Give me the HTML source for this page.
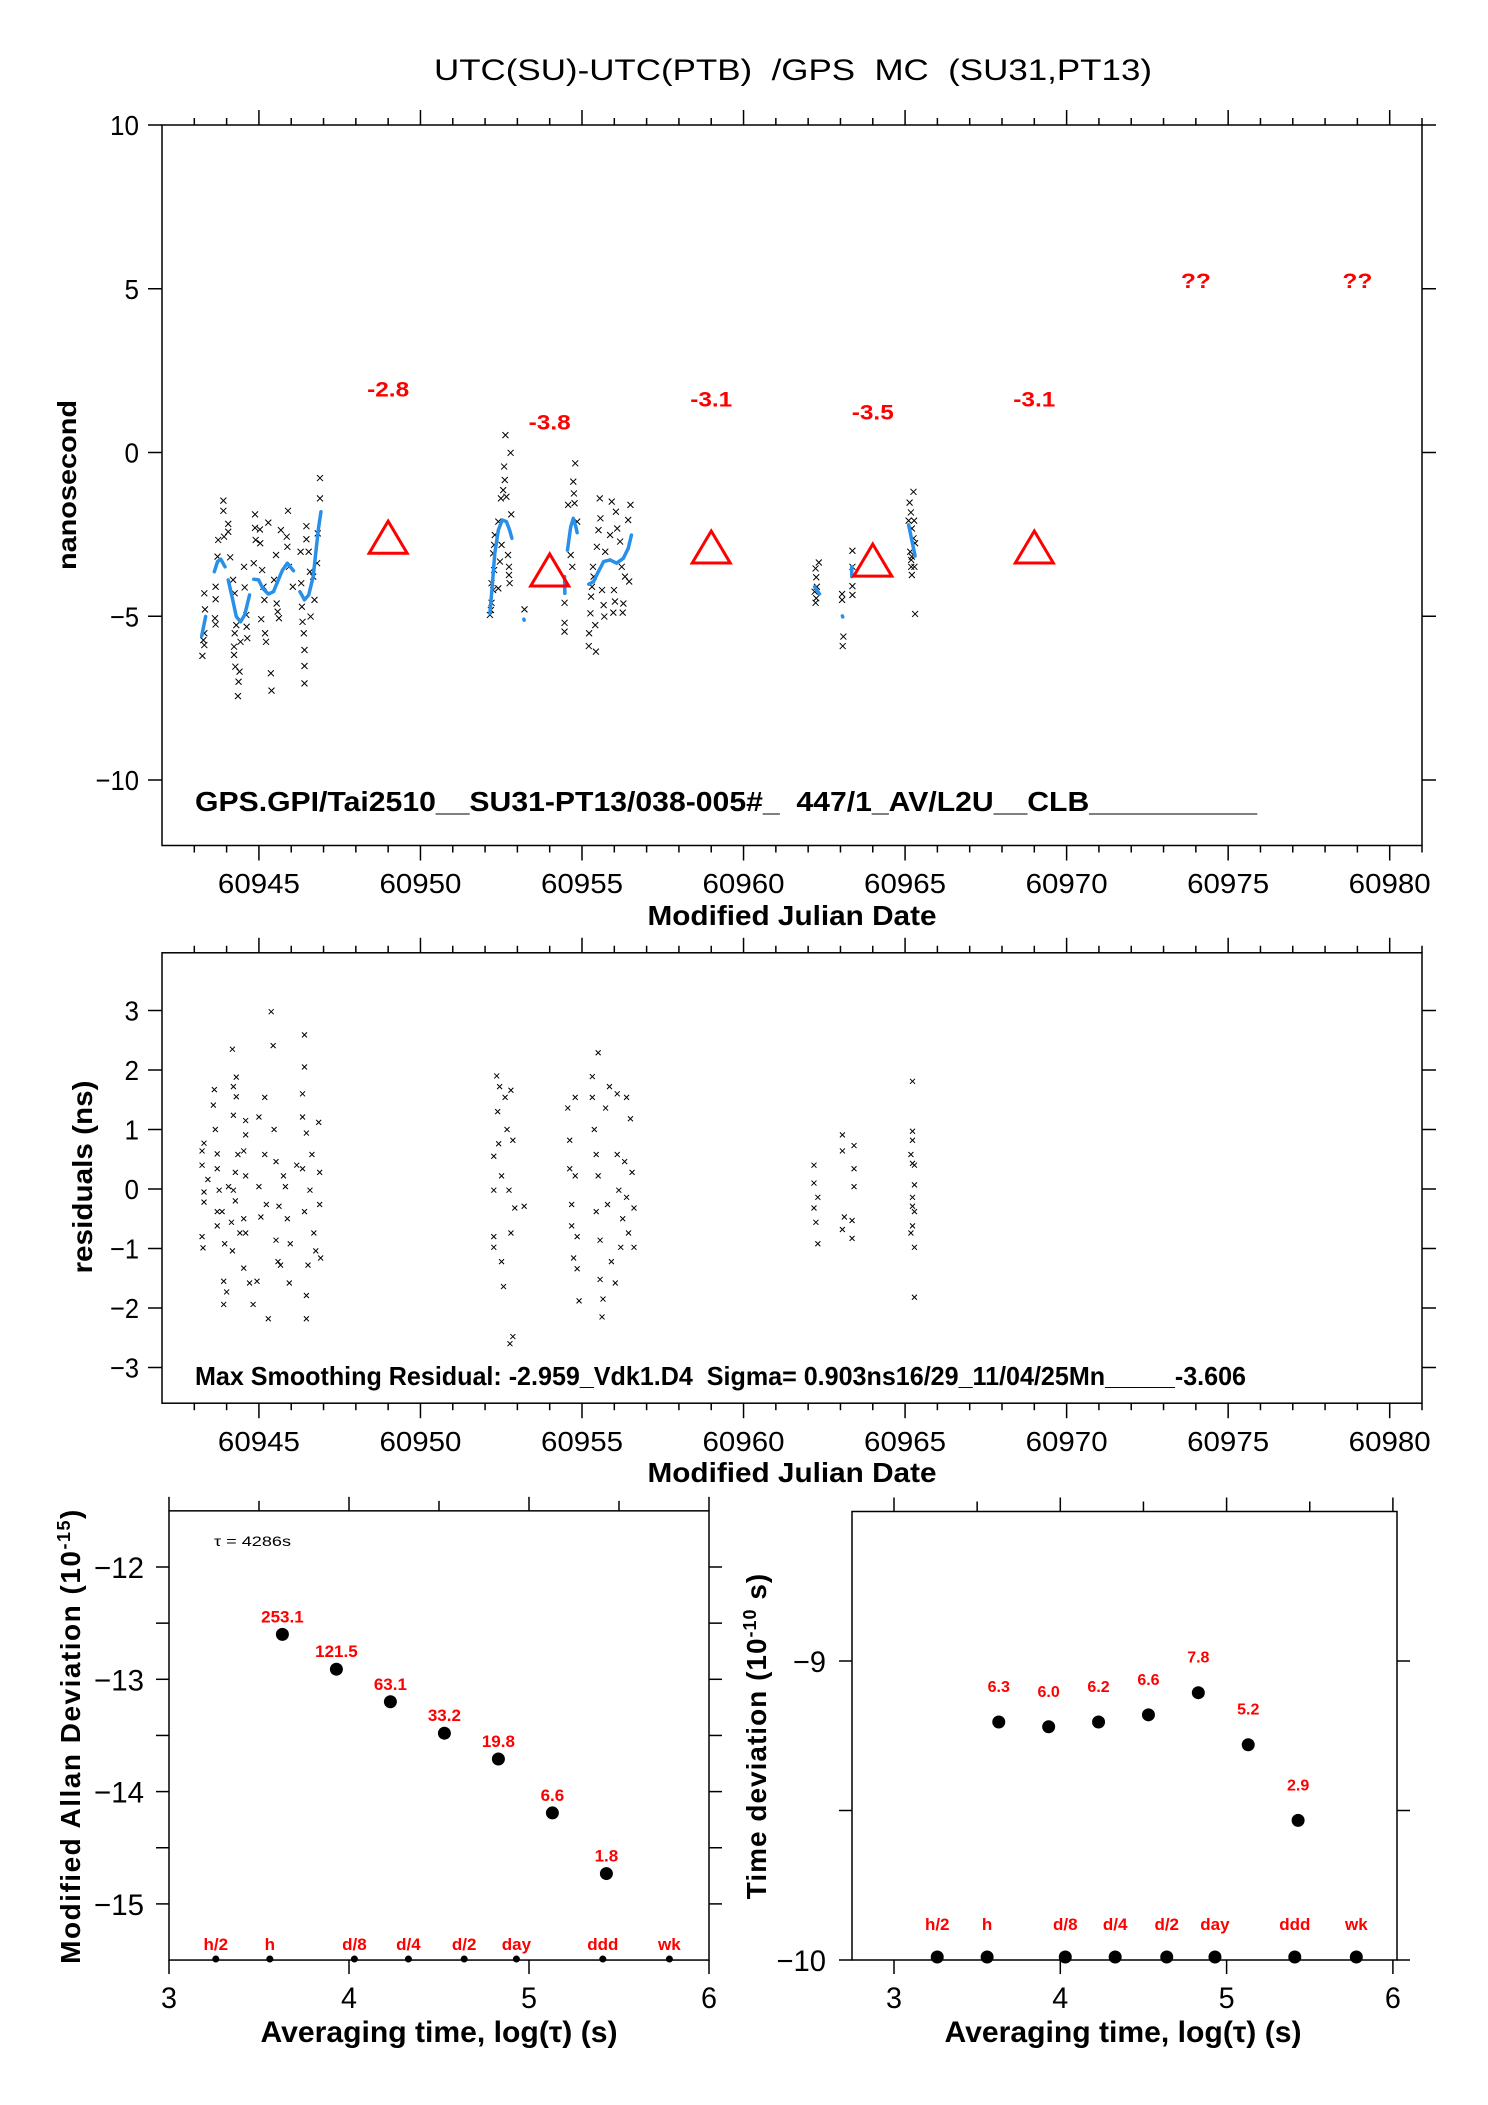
<!DOCTYPE html>
<html><head><meta charset="utf-8"><title>UTC(SU)-UTC(PTB) GPS MC</title>
<style>html,body{margin:0;padding:0;background:#fff}svg{display:block}</style></head>
<body>
<svg id="chart" xmlns="http://www.w3.org/2000/svg" width="1488" height="2105" viewBox="0 0 1488 2105"></svg>
<script>
// ---------- data ----------
const topX=[60943.25,60943.31,60943.28,60943.31,60943.33,60943.31,60943.66,60943.66,60943.64,60943.66,60943.72,60943.74,60943.90,60943.90,60943.92,60944.05,60944.05,60944.11,60944.20,60944.25,60944.30,60944.25,60944.23,60944.23,60944.27,60944.40,60944.37,60944.35,60944.43,60944.54,60944.56,60944.61,60944.62,60944.64,60944.88,60944.88,60944.90,60945.03,60945.04,60944.84,60945.10,60945.14,60945.17,60945.07,60945.19,60945.22,60945.29,60945.37,60945.39,60945.47,60945.53,60945.55,60945.58,60945.62,60945.68,60945.86,60945.90,60945.88,60945.93,60946.05,60946.29,60946.31,60946.33,60946.35,60946.39,60946.41,60946.41,60946.41,60946.47,60946.47,60946.54,60946.60,60946.58,60946.68,60946.72,60946.80,60946.82,60946.89,60946.89,
60952.15,60952.18,60952.20,60952.25,60952.20,60952.28,60952.25,60952.28,60952.30,60952.41,60952.41,60952.46,60952.51,60952.49,60952.56,60952.61,60952.59,60952.63,60952.66,60952.71,60952.74,60952.74,60952.76,60952.79,60952.81,60953.22,60954.46,60954.46,60954.46,60954.57,60954.65,60954.70,60954.73,60954.75,60954.77,60954.79,60954.85,60955.22,60955.26,60955.28,60955.31,60955.34,60955.36,60955.21,60955.43,60955.41,60955.46,60955.51,60955.55,60955.57,60955.62,60955.67,60955.69,60955.72,60955.87,60955.92,60955.97,60955.99,60956.02,60956.05,60956.09,60956.18,60956.23,60956.26,60956.28,60956.33,60956.43,60956.46,60956.50,
60962.33,60962.23,60962.25,60962.27,60962.20,60962.25,60962.23,60963.05,60963.05,60963.09,60963.07,60963.37,60963.37,60963.37,60963.37,60965.26,60965.14,60965.18,60965.11,60965.28,60965.21,60965.26,60965.31,60965.16,60965.21,60965.19,60965.29,60965.19,60965.21,60965.31];
const topY=[-6.21,-5.88,-5.73,-5.52,-4.79,-4.30,-4.10,-4.48,-5.06,-5.25,-3.18,-2.67,-1.47,-1.78,-2.57,-2.18,-2.42,-3.20,-3.89,-4.30,-5.27,-5.52,-5.93,-6.18,-6.54,-6.69,-7.00,-7.44,-5.78,-3.49,-4.12,-4.96,-5.32,-5.67,-1.89,-2.30,-2.67,-2.35,-2.77,-3.38,-3.59,-4.10,-4.50,-5.09,-5.52,-5.78,-2.14,-6.74,-7.27,-3.89,-3.13,-4.61,-4.86,-5.06,-2.37,-2.57,-1.78,-2.88,-3.49,-4.10,-3.03,-3.99,-4.71,-5.17,-5.52,-6.03,-6.52,-7.05,-2.25,-2.65,-3.03,-5.01,-3.64,-3.79,-4.50,-3.38,-2.47,-1.40,-0.78,
-4.96,-4.81,-4.59,-4.20,-3.99,-3.59,-3.08,-2.82,-2.52,-2.11,-4.15,-3.33,-2.82,-1.40,-1.15,-0.84,-0.43,0.53,-1.35,-3.13,-3.49,-3.74,-3.99,-0.01,-1.89,-4.79,-4.59,-5.20,-5.47,-1.60,-3.13,-3.49,-0.89,-1.25,-1.55,-0.33,-2.11,-5.52,-4.91,-4.40,-4.10,-3.49,-3.79,-5.91,-6.08,-5.27,-2.88,-2.37,-1.40,-2.01,-4.20,-4.66,-5.01,-3.03,-2.52,-1.50,-4.89,-4.20,-4.55,-1.81,-2.32,-2.72,-3.49,-4.89,-4.61,-3.79,-2.06,-3.94,-1.60,
-3.36,-3.54,-3.81,-4.10,-4.25,-4.45,-4.59,-4.32,-4.50,-5.62,-5.91,-3.00,-3.49,-4.08,-4.35,-1.20,-1.53,-1.83,-2.08,-2.08,-2.32,-2.62,-2.77,-3.03,-3.18,-3.28,-3.49,-3.49,-3.74,-4.93];
const blueX=[[60943.23,60943.35],[60943.62,60943.72,60943.82,60943.95],[60944.05,60944.20,60944.30,60944.43,60944.56,60944.71],[60944.84,60944.99,60945.12,60945.29,60945.45,60945.60,60945.73,60945.88,60946.07],[60946.27,60946.41,60946.54,60946.68,60946.78,60946.85,60946.92],[60952.15,60952.22,60952.30,60952.41,60952.53,60952.66,60952.76,60952.83],[60953.20,60953.21],[60954.46,60954.47],[60954.55,60954.65,60954.73,60954.81,60954.85],[60955.21,60955.36,60955.48,60955.67,60955.87,60956.07,60956.28,60956.43,60956.53],[60962.20,60962.35],[60963.06,60963.07],[60963.35,60963.35],[60965.11,60965.31]];
const blueY=[[-5.60,-5.01],[-3.64,-3.33,-3.26,-3.49],[-3.89,-4.55,-5.01,-5.17,-4.96,-4.35],[-3.87,-3.89,-4.15,-4.32,-4.25,-3.89,-3.59,-3.38,-3.61],[-4.25,-4.50,-4.35,-3.79,-2.88,-2.27,-1.81],[-4.91,-4.10,-3.08,-2.37,-2.06,-2.11,-2.37,-2.62],[-5.09,-5.12],[-3.79,-4.30],[-2.98,-2.27,-2.01,-2.27,-2.45],[-4.02,-3.94,-3.69,-3.33,-3.28,-3.38,-3.23,-2.93,-2.52],[-4.10,-4.32],[-4.99,-5.02],[-3.49,-3.79],[-2.21,-3.16]];
const triX=[60949,60954,60959,60964,60969];
const triV=[-2.8,-3.8,-3.1,-3.5,-3.1];
const unkX=[60974,60979];
const unkV=[5.27,5.27];
const resX=[60943.24,60943.24,60943.30,60943.30,60943.24,60943.27,60943.30,60943.42,60943.62,60943.59,60943.65,60943.71,60943.71,60943.77,60943.71,60943.71,60943.91,60943.91,60944.00,60943.86,60943.94,60944.06,60944.18,60944.30,60944.21,60944.30,60944.21,60944.27,60944.21,60944.15,60944.18,60944.35,60944.27,60944.41,60944.59,60944.59,60944.53,60944.59,60944.53,60944.59,60944.53,60944.71,60944.82,60945.00,60945.00,60945.06,60944.94,60945.18,60945.18,60945.23,60945.29,60945.38,60945.44,60945.47,60945.53,60945.53,60945.59,60945.62,60945.67,60945.76,60945.82,60945.88,60945.94,60945.97,60946.17,60946.35,60946.35,60946.41,60946.41,60946.47,60946.35,60946.41,60946.47,60946.47,60946.52,60946.58,60946.64,60946.70,60946.76,60946.85,60946.88,60946.88,60946.91,
60952.27,60952.27,60952.27,60952.27,60952.36,60952.39,60952.42,60952.45,60952.51,60952.51,60952.57,60952.62,60952.68,60952.74,60952.80,60952.80,60952.86,60952.77,60952.86,60952.92,60953.21,60954.56,60954.62,60954.62,60954.68,60954.68,60954.74,60954.79,60954.79,60954.85,60954.91,60954.85,60955.32,60955.32,60955.38,60955.44,60955.50,60955.44,60955.56,60955.56,60955.62,60955.50,60955.65,60955.73,60955.79,60955.85,60955.91,60956.03,60956.09,60956.09,60956.14,60956.20,60956.26,60956.32,60956.38,60956.38,60956.44,60956.50,60956.55,60956.61,60956.61,
60962.18,60962.18,60962.18,60962.24,60962.30,60962.30,60963.06,60963.06,60963.12,60963.06,60963.42,60963.42,60963.42,60963.36,60963.36,60965.23,60965.23,60965.23,60965.18,60965.23,60965.29,60965.29,60965.23,60965.23,60965.23,60965.18,60965.29,60965.29,60965.29];
const resY=[0.64,0.40,-0.05,-0.22,-0.80,-0.99,0.77,0.16,1.67,1.41,1.00,0.59,0.34,-0.02,-0.38,-0.62,-1.55,-1.94,-1.73,-0.38,-0.92,0.04,2.35,1.88,1.72,1.55,1.24,0.28,-0.02,-0.56,-1.04,0.58,-0.20,-0.74,1.15,0.91,0.64,0.22,-0.50,-0.74,-1.33,-1.58,-1.94,1.21,0.04,-0.47,-1.55,1.54,0.58,-0.26,-2.18,2.98,2.41,1.00,0.46,-0.86,-1.22,-0.29,-1.28,0.22,0.04,-0.50,-1.58,-0.92,0.40,1.60,1.21,2.59,2.05,0.94,0.34,-0.38,-2.18,-1.79,-1.28,-0.02,0.58,-0.74,-1.04,1.12,0.28,-0.26,-1.16,
0.55,-0.02,-0.80,-0.98,1.90,1.30,0.76,1.72,0.22,-1.22,-1.64,1.54,1.00,-0.02,1.66,-0.74,0.82,-2.60,-2.48,-0.32,-0.29,1.36,0.82,0.34,-0.26,-0.62,-1.16,1.54,0.22,-0.80,-1.88,-1.34,1.89,1.54,1.00,0.58,0.22,-0.38,-0.86,-1.52,-2.15,2.29,-1.85,1.36,-0.26,1.72,-1.22,-1.58,1.60,0.58,-0.02,-0.98,-0.50,0.46,1.54,-0.14,-0.74,1.18,0.28,-0.98,-0.32,
0.40,0.10,-0.32,-0.56,-0.92,-0.14,0.91,0.64,-0.47,-0.68,0.73,0.34,0.04,-0.53,-0.83,1.81,0.97,0.82,0.58,0.43,0.40,0.07,-0.14,-0.29,-0.62,-0.74,-0.98,-1.82,-0.38];
const madX=[3.63,3.93,4.23,4.53,4.83,5.13,5.43];
const madY=[-12.60,-12.91,-13.20,-13.48,-13.71,-14.19,-14.73];
const madLbl=['253.1','121.5','63.1','33.2','19.8','6.6','1.8'];
const tdevX=[3.63,3.93,4.23,4.53,4.83,5.13,5.43];
const tdevY=[-9.204,-9.22,-9.204,-9.18,-9.106,-9.28,-9.533];
const tdevLbl=['6.3','6.0','6.2','6.6','7.8','5.2','2.9'];
const markX=[3.26,3.56,4.03,4.33,4.64,4.93,5.41,5.78];
const markLbl=['h/2','h','d/8','d/4','d/2','day','ddd','wk'];
const mjdTicks=[60945,60950,60955,60960,60965,60970,60975,60980];
const nsTicks=[-10,-5,0,5,10];
const resTicks=[-3,-2,-1,0,1,2,3];
const madTicks=[-12,-13,-14,-15];
const tdevTicks=[-9,-10];
const logTicks=[3,4,5,6];

// ---------- helpers ----------
const NS='http://www.w3.org/2000/svg';
const svg=document.getElementById('chart');
const FONT='"Liberation Sans", "DejaVu Sans", sans-serif';
function mk(tag,name,parent){
  const e=document.createElementNS(NS,tag);
  
  
  (parent||svg).appendChild(e);
  return e;
}
function group(name){return mk('g',name,svg);}
function line(g,name,x1,y1,x2,y2,w,c){
  const e=mk('line',name,g);
  e.setAttribute('x1',x1);e.setAttribute('y1',y1);e.setAttribute('x2',x2);e.setAttribute('y2',y2);
  e.setAttribute('stroke',c||'#000');e.setAttribute('stroke-width',w||1.5);
  return e;
}
function txt(g,name,x,y,s,size,o){
  o=o||{};
  const e=mk('text',name,g);
  e.setAttribute('x',x);e.setAttribute('y',y);
  e.setAttribute('font-family',FONT);
  e.setAttribute('font-size',size);
  e.setAttribute('text-anchor',o.anchor||'middle');
  e.setAttribute('fill',o.fill||'#000');
  e.setAttribute('style','white-space:pre');
  if(o.bold) e.setAttribute('font-weight','bold');
  if(o.len){e.setAttribute('textLength',o.len);e.setAttribute('lengthAdjust','spacingAndGlyphs');}
  if(o.rot) e.setAttribute('transform','rotate(-90 '+x+' '+y+')');
  e.textContent=s;
  return e;
}
function frame(g,name,x0,y0,x1,y1){
  const r=mk('rect',name,g);
  r.setAttribute('x',x0);r.setAttribute('y',y0);r.setAttribute('width',x1-x0);r.setAttribute('height',y1-y0);
  r.setAttribute('fill','none');r.setAttribute('stroke','#000');r.setAttribute('stroke-width',1.5);
}
function xmark(g,cx,cy,s){
  const p=mk('path','data-point',g);
  p.setAttribute('d','M'+(cx-s)+' '+(cy-s)+'L'+(cx+s)+' '+(cy+s)+'M'+(cx-s)+' '+(cy+s)+'L'+(cx+s)+' '+(cy-s));
  p.setAttribute('stroke','#000');p.setAttribute('stroke-width',1);p.setAttribute('fill','none');
}
function dot(g,name,cx,cy,r,c){
  const e=mk('circle',name,g);
  e.setAttribute('cx',cx);e.setAttribute('cy',cy);e.setAttribute('r',r);e.setAttribute('fill',c||'#000');
}

// ---------- title ----------
const tg=group('chart-title');
txt(tg,'chart-title-text',793,80,'UTC(SU)-UTC(PTB)  /GPS  MC  (SU31,PT13)',30,{len:718});

// ---------- MJD axis scale (shared) ----------
const MX0=162,MX1=1422,MJD0=60942.0,MJD1=60981.0;
function mx(v){return MX0+(v-MJD0)/(MJD1-MJD0)*(MX1-MX0);}

function mjdAxis(g,yTop,yBot,labelY,titleY){
  for(let d=60943;d<=60981;d++){
    const major=d%5===0;
    const L=major?15:7;
    line(g,major?'x-major-tick':'x-minor-tick',mx(d),yTop,mx(d),yTop-L,1.5);
    line(g,major?'x-major-tick':'x-minor-tick',mx(d),yBot,mx(d),yBot+L,1.5);
  }
  mjdTicks.forEach(t=>txt(g,'x-tick-label',mx(t),labelY,String(t),28,{len:82}));
  txt(g,'x-axis-title',792,titleY,'Modified Julian Date',28,{bold:true,len:289});
}

// ---------- panel 1: time series ----------
const p1=group('time-series-panel');
function ny(v){return 780-(v+10)*32.75;}
frame(p1,'plot-frame',MX0,ny(10),MX1,ny(-12));
mjdAxis(p1,ny(10),ny(-12),893,925);
nsTicks.forEach(t=>{
  line(p1,'y-tick',MX0-14,ny(t),MX0,ny(t),1.5);
  line(p1,'y-tick',MX1,ny(t),MX1+14,ny(t),1.5);
  txt(p1,'y-tick-label',139,ny(t)+10,t<0?'\u2212'+Math.abs(t):String(t),28,{anchor:'end',len:String(t).length*14.5});
});
txt(p1,'y-axis-title',76,485,'nanosecond',26,{bold:true,rot:true,len:170});
const sc1=mk('g','raw-data-points',p1);
topX.forEach((x,i)=>xmark(sc1,mx(x),ny(topY[i]),3));
const bl=mk('g','smoothed-curve',p1);
blueX.forEach((seg,k)=>{
  const pl=mk('polyline','smoothed-segment',bl);
  pl.setAttribute('points',seg.map((x,i)=>mx(x)+','+ny(blueY[k][i])).join(' '));
  pl.setAttribute('fill','none');pl.setAttribute('stroke','#2990ea');pl.setAttribute('stroke-width',3.5);
  pl.setAttribute('stroke-linecap','round');pl.setAttribute('stroke-linejoin','round');
});
const tri=mk('g','daily-means',p1);
triX.forEach((x,i)=>{
  const cx=mx(x),cy=ny(triV[i]);
  const p=mk('path','mean-triangle',tri);
  p.setAttribute('d','M'+cx+' '+(cy-23)+'L'+(cx+19)+' '+(cy+9)+'L'+(cx-19)+' '+(cy+9)+'Z');
  p.setAttribute('fill','none');p.setAttribute('stroke','#ff0000');p.setAttribute('stroke-width',3);
  txt(tri,'mean-label',cx,ny(triV[i]+4.75)+8,triV[i].toFixed(1),21,{bold:true,fill:'#ff0000',len:42});
});
unkX.forEach((x,i)=>txt(tri,'unknown-label',mx(x),ny(unkV[i])+8,'??',21,{bold:true,fill:'#ff0000',len:30}));
txt(p1,'file-annotation',195,811,'GPS.GPI/Tai2510__SU31-PT13/038-005#_  447/1_AV/L2U__CLB__________',28,{bold:true,anchor:'start',len:1062});

// ---------- panel 2: residuals ----------
const p2=group('residuals-panel');
function ry(v){return 1189-v*59.5;}
frame(p2,'plot-frame',MX0,ry(3.97),MX1,ry(-3.6));
mjdAxis(p2,ry(3.97),ry(-3.6),1451,1482);
resTicks.forEach(t=>{
  line(p2,'y-tick',MX0-14,ry(t),MX0,ry(t),1.5);
  line(p2,'y-tick',MX1,ry(t),MX1+14,ry(t),1.5);
  txt(p2,'y-tick-label',139,ry(t)+10,t<0?'\u2212'+Math.abs(t):String(t),28,{anchor:'end',len:String(t).length*14.5});
});
txt(p2,'y-axis-title',92,1177,'residuals (ns)',28,{bold:true,rot:true,len:193});
const sc2=mk('g','residual-points',p2);
resX.forEach((x,i)=>xmark(sc2,mx(x),ry(resY[i]),2.5));
txt(p2,'residual-annotation',195,1385,'Max Smoothing Residual: -2.959_Vdk1.D4  Sigma= 0.903ns16/29_11/04/25Mn_____-3.606',26,{bold:true,anchor:'start',len:1051});

// ---------- panel 3: modified Allan deviation ----------
const p3=group('mdev-panel');
function ax3(v){return 169+(v-3)*180;}
function ay3(v){return 1567-(v+12)*112.3;}
frame(p3,'plot-frame',169,ay3(-11.5),709,ay3(-15.5));
for(let v=3;v<=6.001;v+=0.5){
  const maj=Math.abs(v-Math.round(v))<0.01;
  line(p3,'x-tick',ax3(v),ay3(-11.5),ax3(v),ay3(-11.5)-(maj?14:10),1.5);
  line(p3,'x-tick',ax3(v),ay3(-15.5),ax3(v),ay3(-15.5)+(maj?14:0),1.5);
}
for(let v=-12;v>=-15;v-=0.5){
  line(p3,'y-tick',169-13,ay3(v),169,ay3(v),1.5);
  line(p3,'y-tick',709,ay3(v),709+13,ay3(v),1.5);
}
madTicks.forEach(t=>txt(p3,'y-tick-label',144,ay3(t)+11,'\u2212'+Math.abs(t),30,{anchor:'end',len:50}));
logTicks.forEach(t=>txt(p3,'x-tick-label',ax3(t),2008,String(t),30,{len:16}));
txt(p3,'x-axis-title',439,2042,'Averaging time, log(\u03c4) (s)',30,{bold:true,len:357});
const yl3=mk('text','y-axis-title',p3);
yl3.setAttribute('x',80);yl3.setAttribute('y',1736);
yl3.setAttribute('font-family',FONT);yl3.setAttribute('font-size',28);yl3.setAttribute('font-weight','bold');
yl3.setAttribute('text-anchor','middle');yl3.setAttribute('letter-spacing','1.5');
yl3.setAttribute('transform','rotate(-90 80 1736)');
const a1=mk('tspan','y-title-main',yl3);a1.textContent='Modified Allan Deviation (10';
const a2=mk('tspan','y-title-exponent',yl3);a2.setAttribute('font-size','18');a2.setAttribute('dy','-10');a2.textContent='-15';
const a3=mk('tspan','y-title-close',yl3);a3.setAttribute('dy','10');a3.textContent=')';
txt(p3,'tau-annotation',214,1546,'\u03c4 = 4286s',14,{anchor:'start',len:77});
const m3=mk('g','mdev-points',p3);
madX.forEach((x,i)=>{
  dot(m3,'mdev-point',ax3(x),ay3(madY[i]),6.5);
  txt(m3,'mdev-label',ax3(x),ay3(madY[i])-12,madLbl[i],17,{bold:true,fill:'#ff0000'});
});
markX.forEach((x,i)=>{
  dot(m3,'interval-marker',ax3(x),ay3(-15.5)-1,3.5);
  txt(m3,'interval-label',ax3(x),1950,markLbl[i],17,{bold:true,fill:'#ff0000'});
});

// ---------- panel 4: time deviation ----------
const p4=group('tdev-panel');
function ax4(v){return 894+(v-3)*166.3;}
function ay4(v){return 1661-(v+9)*299;}
frame(p4,'plot-frame',852,ay4(-8.5),1397,ay4(-10));
for(let v=3;v<=6.001;v+=0.5){
  const maj=Math.abs(v-Math.round(v))<0.01;
  line(p4,'x-tick',ax4(v),ay4(-8.5),ax4(v),ay4(-8.5)-(maj?14:10),1.5);
  line(p4,'x-tick',ax4(v),ay4(-10),ax4(v),ay4(-10)+(maj?14:0),1.5);
}
for(let v=-9;v>=-10;v-=0.5){
  line(p4,'y-tick',852-13,ay4(v),852,ay4(v),1.5);
  line(p4,'y-tick',1397,ay4(v),1397+13,ay4(v),1.5);
}
tdevTicks.forEach(t=>txt(p4,'y-tick-label',826,ay4(t)+11,'\u2212'+Math.abs(t),30,{anchor:'end',len:String(t).length*16.5}));
logTicks.forEach(t=>txt(p4,'x-tick-label',ax4(t),2008,String(t),30,{len:16}));
txt(p4,'x-axis-title',1123,2042,'Averaging time, log(\u03c4) (s)',30,{bold:true,len:357});
const yl4=mk('text','y-axis-title',p4);
yl4.setAttribute('x',766);yl4.setAttribute('y',1736);
yl4.setAttribute('font-family',FONT);yl4.setAttribute('font-size',28);yl4.setAttribute('font-weight','bold');
yl4.setAttribute('text-anchor','middle');yl4.setAttribute('letter-spacing','1');
yl4.setAttribute('transform','rotate(-90 766 1736)');
const b1=mk('tspan','y-title-main',yl4);b1.textContent='Time deviation (10';
const b2=mk('tspan','y-title-exponent',yl4);b2.setAttribute('font-size','18');b2.setAttribute('dy','-10');b2.textContent='-10';
const b3=mk('tspan','y-title-close',yl4);b3.setAttribute('dy','10');b3.textContent=' s)';
const m4=mk('g','tdev-points',p4);
tdevX.forEach((x,i)=>{
  dot(m4,'tdev-point',ax4(x),ay4(tdevY[i]),6.5);
  txt(m4,'tdev-label',ax4(x),ay4(tdevY[i])-30,tdevLbl[i],16,{bold:true,fill:'#ff0000'});
});
markX.forEach((x,i)=>{
  dot(m4,'interval-marker',ax4(x),ay4(-9.99),6.5);
  txt(m4,'interval-label',ax4(x),1930,markLbl[i],17,{bold:true,fill:'#ff0000'});
});
</script>
</body></html>
